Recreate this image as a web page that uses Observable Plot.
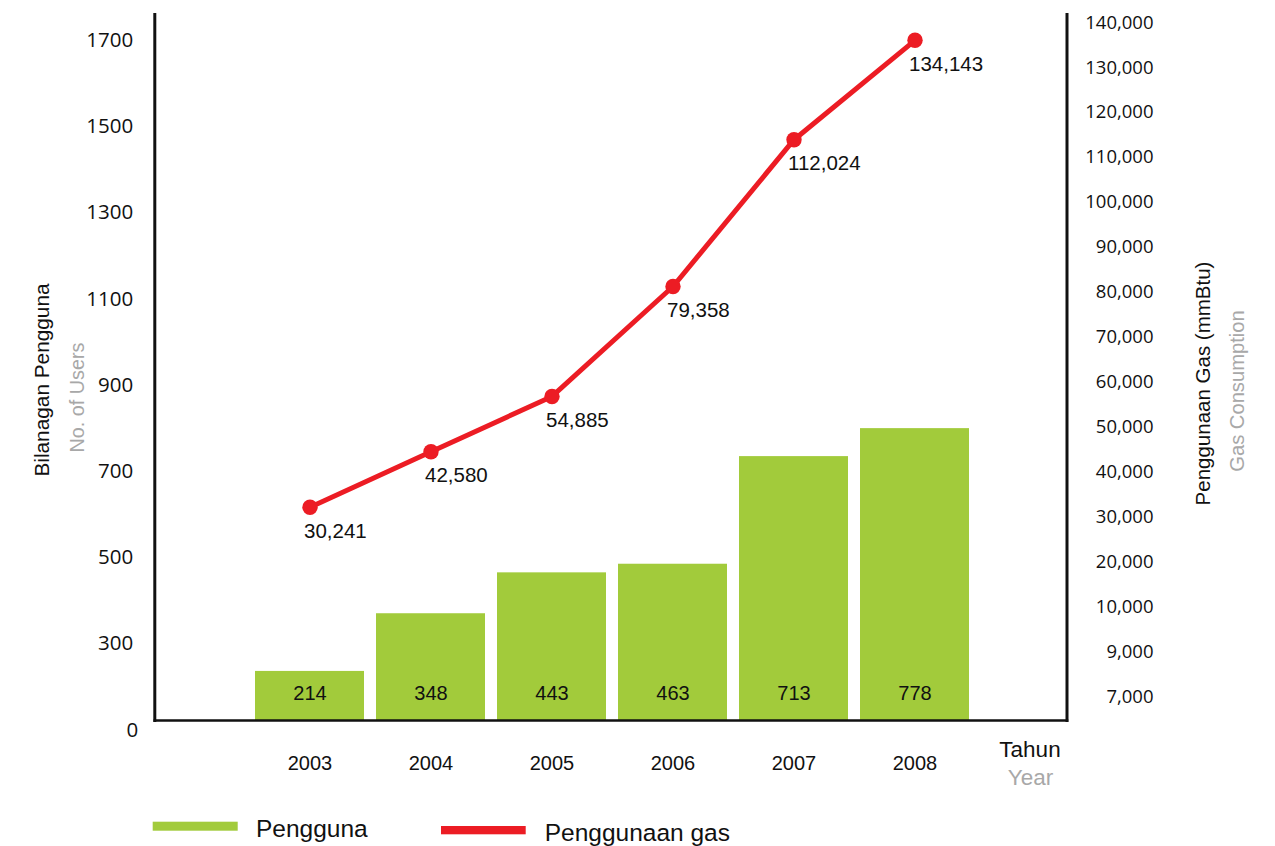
<!DOCTYPE html>
<html><head><meta charset="utf-8">
<script src="https://cdn.jsdelivr.net/npm/d3@7"></script>
<script src="https://cdn.jsdelivr.net/npm/@observablehq/plot@0.6"></script>
<style>
html,body{margin:0;padding:0;background:#fff;}
#wrap{position:relative;width:1275px;height:846px;overflow:hidden;font-family:"Liberation Sans",Arial,sans-serif;}
#wrap svg{position:absolute;left:0;top:0;max-width:none;}
</style></head><body><div id="wrap"></div>
<script>
// ---- data ----
const years = ["2003", "2004", "2005", "2006", "2007", "2008"];
const users = [214, 348, 443, 463, 713, 778];
const gas = [30241, 42580, 54885, 79358, 112024, 134143];
const leftTicks = [300, 500, 700, 900, 1100, 1300, 1500, 1700];
const rightTicks = [7000, 9000, 10000, 20000, 30000, 40000, 50000, 60000, 70000, 80000, 90000, 100000, 110000, 120000, 130000, 140000];
const legendLabels = ["Pengguna", "Penggunaan gas"];
const axisTitles = {left: "Bilanagan Pengguna", leftSub: "No. of Users", right: "Penggunaan Gas (mmBtu)", rightSub: "Gas Consumption", x: "Tahun", xSub: "Year"};

const GREEN = "#a2cb3b", RED = "#ec1c24", INK = "#111", GRAY = "#a8a8a8";
const W = 1275, H = 800, FULLH = 846;
const frameL = 154.3, frameR = 1066.5, frameT = 14, frameB = 720;
const margins = {marginLeft: frameL, marginRight: W - frameR, marginTop: frameT, marginBottom: H - frameB};
const xOpts = {type: "band", domain: years, paddingInner: 0.101, paddingOuter: 0.798, align: 0.51};
const baseStyle = {background: "transparent", overflow: "visible", color: INK, fontFamily: "Liberation Sans, Arial, sans-serif"};

const data = years.map((year, i) => ({year, users: users[i], gas: gas[i]}));
const wrap = document.getElementById("wrap");

// ---- Plot 1: bars + left axis + x axis ----
const p1 = Plot.plot({
  width: W, height: H, ...margins, style: baseStyle,
  x: {...xOpts, label: null},
  y: {type: "linear", domain: [100, 1740], label: null},
  marks: [
    Plot.barY(data, {x: "year", y: "users", fill: GREEN, clip: true}),
    Plot.text(data, {x: "year", text: d => String(d.users), frameAnchor: "bottom", lineAnchor: "middle", dy: -27, fontSize: 20, fill: INK}),
    Plot.axisY({anchor: "left", label: null, ticks: leftTicks, tickSize: 0, tickPadding: 21.6, dy: 9, fontSize: 20.5, fontFamily: "Open Sans", fill: INK, tickFormat: d => String(d)}),
    Plot.text(["0"], {text: d => d, frameAnchor: "bottom-left", lineAnchor: "middle", textAnchor: "end", dx: -16.6, dy: 10, fontSize: 20.5, fontFamily: "Open Sans", fill: INK}),
    Plot.axisX({anchor: "bottom", label: null, tickSize: 0, tickPadding: 35, fontSize: 20, fill: INK}),
    Plot.frame({anchor: "left", stroke: INK, strokeWidth: 3}),
    Plot.frame({anchor: "bottom", stroke: INK, strokeWidth: 2.6})
  ]
});
wrap.appendChild(p1);

// ---- Plot 2: line + right axis ----
const rBottom = 687.5, rTop = 13.5;
const rStep = (rBottom - rTop) / (rightTicks.length - 1);
const p2 = Plot.plot({
  width: W, height: H, ...margins, style: baseStyle,
  x: {...xOpts, axis: null, label: null},
  y: {type: "linear", domain: rightTicks, range: rightTicks.map((_, i) => rBottom - i * rStep), label: null},
  marks: [
    Plot.line(data, {x: "year", y: "gas", stroke: RED, strokeWidth: 5}),
    Plot.dot(data, {x: "year", y: "gas", r: 7.7, fill: RED}),
    Plot.text(data, {x: "year", y: "gas", text: d => d3.format(",")(d.gas), textAnchor: "start", dx: -6, dy: 24, fontSize: 20.5, fill: INK}),
    Plot.axisY({anchor: "right", label: null, ticks: rightTicks, tickSize: 0, tickPadding: 86.5, textAnchor: "end", dy: 8.7, fontSize: 18.5, fontFamily: "Open Sans", fill: INK, tickFormat: d3.format(",")}),
    Plot.frame({anchor: "right", stroke: INK, strokeWidth: 3})
  ]
});
wrap.appendChild(p2);

// ---- titles and legend ----
const ov = d3.create("svg").attr("width", W).attr("height", FULLH)
  .style("font-family", "Liberation Sans, Arial, sans-serif");
function vtext(x, y, str, size, color) {
  ov.append("text").attr("transform", `translate(${x},${y}) rotate(-90)`)
    .attr("text-anchor", "middle").attr("font-size", size).attr("fill", color).text(str);
}
function htext(x, y, str, size, color, anchor) {
  ov.append("text").attr("x", x).attr("y", y).attr("text-anchor", anchor)
    .attr("font-size", size).attr("fill", color).text(str);
}
vtext(49.3, 380, axisTitles.left, 20.8, INK);
vtext(84, 397.5, axisTitles.leftSub, 19.8, GRAY);
vtext(1209.5, 383.5, axisTitles.right, 20.5, INK);
vtext(1244, 391, axisTitles.rightSub, 20.2, GRAY);
htext(1030, 757, axisTitles.x, 22.5, INK, "middle");
htext(1030.5, 785, axisTitles.xSub, 22.5, GRAY, "middle");

ov.append("rect").attr("x", 152.7).attr("y", 821.7).attr("width", 85).attr("height", 9).attr("fill", GREEN);
htext(256, 837, legendLabels[0], 24.5, INK, "start");
ov.append("rect").attr("x", 441).attr("y", 826).attr("width", 84.7).attr("height", 8.3).attr("fill", RED);
htext(544.7, 841, legendLabels[1], 24.5, INK, "start");
wrap.appendChild(ov.node());
</script>
</body></html>
